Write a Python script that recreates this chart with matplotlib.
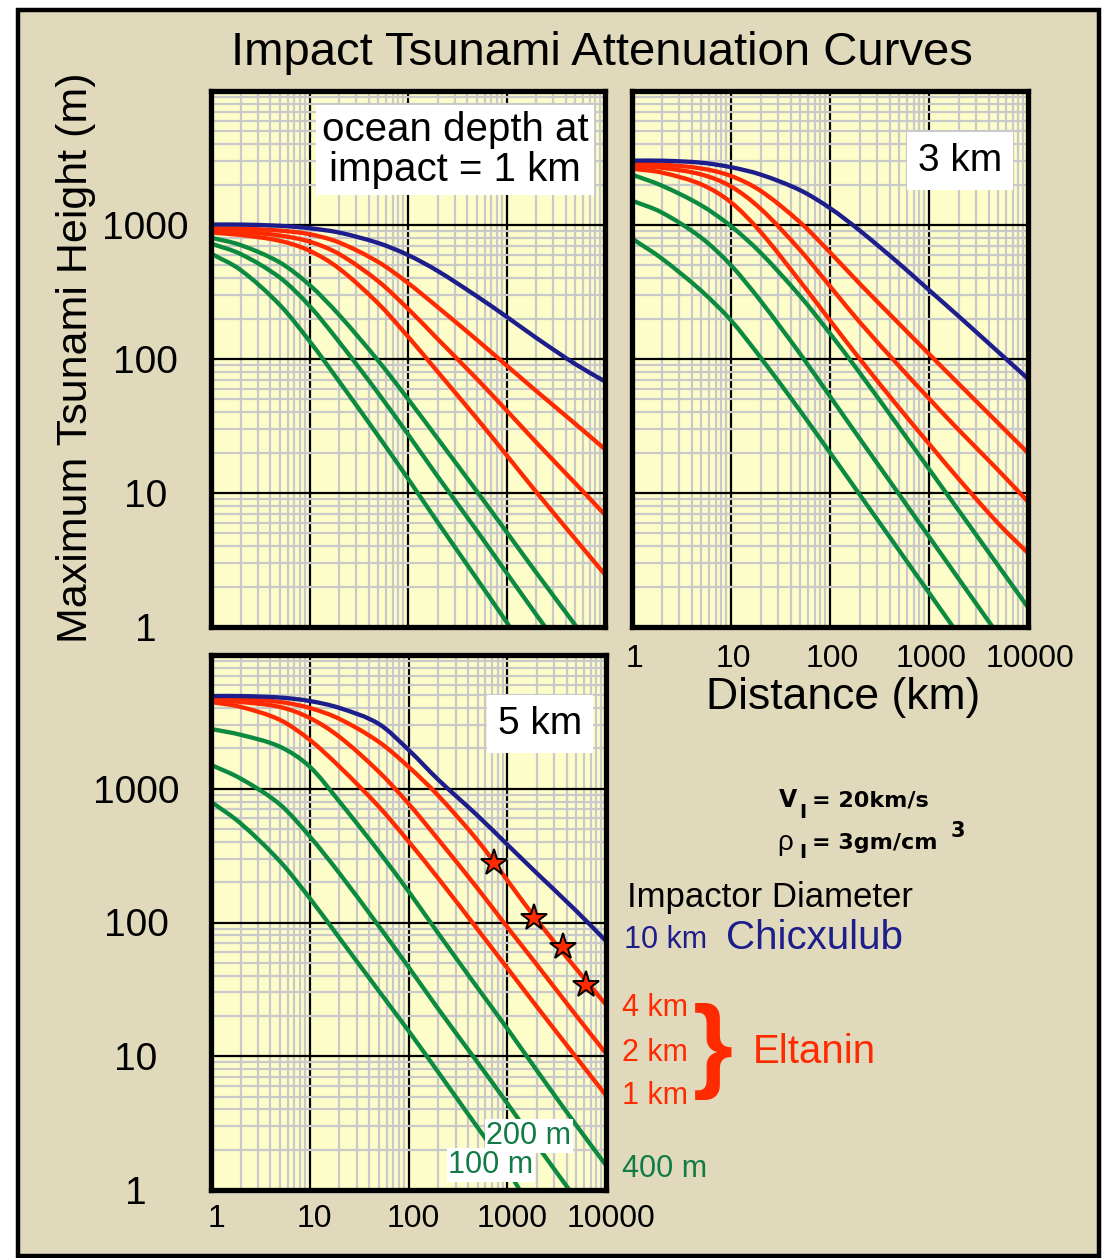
import matplotlib
matplotlib.use("Agg")
import numpy as np
import matplotlib.pyplot as plt
import matplotlib.transforms as mtransforms
from matplotlib.patches import Rectangle, PathPatch
from matplotlib.path import Path
from matplotlib.ticker import LogLocator, NullFormatter, FixedLocator

plt.rcParams['font.family'] = ['Liberation Sans', 'DejaVu Sans']

# ---------------- data (distance km, tsunami height m) ----------------
distance = [1, 2, 5, 10, 20, 50, 100, 200, 500, 1000, 2000, 5000, 10000]

# ocean depth 1 km
d1_10km = [1007, 1007, 986, 946, 878, 733, 597, 454, 294, 207, 144, 91.6, 68]
d1_4km = [940, 940, 908, 854, 740, 529, 369, 244, 139, 89.6, 57.8, 32.8, 21.2]
d1_2km = [908, 893, 834, 752, 607, 380, 237, 141, 71, 41.4, 23.9, 11.8, 6.88]
d1_1km = [878, 842, 762, 643, 473, 259, 147, 80.3, 36, 19.2, 10.2, 4.53, 2.46]
d1_400m = [805, 708, 525, 357, 213, 96.8, 50.3, 25.5, 10.3, 5.13, 2.55, 1.03, 0.51]
d1_200m = [727, 607, 405, 249, 134, 55.4, 27.4, 13.3, 5.23, 2.54, 1.24, 0.49, 0.24]
d1_100m = [612, 461, 253, 136, 68, 26.6, 12.8, 6.05, 2.29, 1.09, 0.51, 0.196, 0.094]

# ocean depth 3 km
d3_10km = [3020, 3020, 2917, 2700, 2376, 1817, 1336, 908, 515, 327, 208, 113, 71.2]
d3_4km = [2870, 2825, 2642, 2322, 1795, 1045, 625, 364, 183, 109, 65.2, 33.2, 19.9]
d3_2km = [2773, 2673, 2383, 1940, 1318, 648, 349, 188, 88.4, 50.7, 29.5, 14.8, 8.61]
d3_1km = [2630, 2461, 2011, 1476, 883, 379, 194, 100, 43.1, 23.3, 12.7, 5.93, 3.56]
d3_400m = [2376, 1967, 1402, 980, 618, 294, 155, 78.6, 30.9, 15.1, 7.39, 2.87, 1.40]
d3_200m = [1520, 1239, 804, 500, 270, 109, 52.6, 25.4, 9.75, 4.72, 2.28, 0.873, 0.423]
d3_100m = [792, 562, 323, 194, 102, 41, 20, 9.7, 3.72, 1.80, 0.871, 0.334, 0.161]

# ocean depth 5 km
d5_10km = [4932, 4932, 4808, 4529, 4018, 3055, 1955, 1169, 630, 383, 233, 122, 72.7]
d5_4km = [4766, 4690, 4455, 4018, 3327, 2243, 1461, 889, 411, 207, 104, 45, 24.3]
d5_2km = [4600, 4455, 4085, 3383, 2443, 1341, 774, 418, 180, 92.4, 48.2, 20.1, 10.5]
d5_1km = [4450, 4090, 3270, 2320, 1462, 736, 404, 214, 89, 45.7, 23.4, 9.8, 5.1]
d5_400m = [2800, 2530, 2060, 1462, 800, 340, 171, 83, 32.5, 16.1, 7.8, 3.05, 1.53]
d5_200m = [1510, 1190, 762, 440, 233, 94, 46.5, 22.6, 9.0, 4.45, 2.16, 0.85, 0.42]
d5_100m = [800, 550, 286, 152, 76.5, 30.8, 15.5, 7.6, 2.94, 1.43, 0.6, 0.22, 0.11]

# Eltanin-type observations (stars) on the 5 km depth panel
star_distance = [741, 1845, 3630, 6210]
star_height = [277, 108, 65.6, 34.2]

tick_values = [1, 10, 100, 1000, 10000]
tick_labels = ['1', '10', '100', '1000', '10000']
ytick_values = [1, 10, 100, 1000]
ytick_labels = ['1', '10', '100', '1000']

# ---------------- styling ----------------
W, H = 1103, 1258
BEIGE = '#e1d9bb'
PANEL = '#fdfdca'
BLUE = '#1d1d8c'
RED = '#ff2a00'
GREEN = '#0c8a40'
GREEN_TXT = '#127a45'
MINOR = '#c9c9c9'

fig = plt.figure(figsize=(W / 100, H / 100), dpi=100, facecolor='white')
fig.patches.append(Rectangle((18 / W, 1 - 1256 / H), (1099 - 18) / W, (1256 - 10) / H,
                             transform=fig.transFigure, facecolor=BEIGE,
                             edgecolor='black', lw=3.2, zorder=-10))


def fx(x):
    return x / W


def fy(y):
    return 1 - y / H


def make_axes(left, top, right, bottom):
    ax = fig.add_axes([fx(left), fy(bottom), fx(right) - fx(left), fy(top) - fy(bottom)])
    ax.set_facecolor(PANEL)
    ax.set_xscale('log')
    ax.set_yscale('log')
    ax.set_xlim(1, 10000)
    ax.set_ylim(1, 10000)
    ax.xaxis.set_major_locator(FixedLocator(tick_values))
    ax.yaxis.set_major_locator(FixedLocator(tick_values))
    ax.xaxis.set_minor_locator(LogLocator(base=10, subs=range(2, 10)))
    ax.yaxis.set_minor_locator(LogLocator(base=10, subs=range(2, 10)))
    ax.xaxis.set_minor_formatter(NullFormatter())
    ax.yaxis.set_minor_formatter(NullFormatter())
    ax.grid(which='minor', color=MINOR, lw=1.6)
    ax.grid(which='major', color='black', lw=1.6)
    ax.set_axisbelow(True)
    ax.tick_params(which='both', length=0)
    for s in ax.spines.values():
        s.set_linewidth(3.8)
        s.set_color('black')
        s.set_zorder(10)
    ax.set_xticklabels([])
    ax.set_yticklabels([])
    return ax


def smooth_curve(ax, xs, ys, color):
    """Smooth cubic (Hermite/Bezier) line through the points, built in log-log space."""
    lx = np.log10(np.asarray(xs, float))
    ly = np.log10(np.asarray(ys, float))
    n = len(lx)
    m = np.empty(n)
    m[0] = (ly[1] - ly[0]) / (lx[1] - lx[0])
    m[-1] = (ly[-1] - ly[-2]) / (lx[-1] - lx[-2])
    for i in range(1, n - 1):
        m[i] = (ly[i + 1] - ly[i - 1]) / (lx[i + 1] - lx[i - 1])
    verts = [(lx[0], ly[0])]
    codes = [Path.MOVETO]
    for i in range(n - 1):
        h = lx[i + 1] - lx[i]
        verts += [(lx[i] + h / 3, ly[i] + m[i] * h / 3),
                  (lx[i + 1] - h / 3, ly[i + 1] - m[i + 1] * h / 3),
                  (lx[i + 1], ly[i + 1])]
        codes += [Path.CURVE4] * 3
    path = Path(10 ** np.array(verts), codes)
    ax.add_patch(PathPatch(path, facecolor='none', edgecolor=color, lw=3.1,
                           capstyle='butt', joinstyle='round', zorder=3))


def draw_curves(ax, series):
    for vals, col in series:
        smooth_curve(ax, distance, vals, col)


ax1 = make_axes(211, 91, 605, 627)
ax2 = make_axes(632, 91, 1028, 627)
ax3 = make_axes(211, 655, 606, 1190)

draw_curves(ax1, [(d1_100m, GREEN), (d1_200m, GREEN), (d1_400m, GREEN),
                  (d1_1km, RED), (d1_2km, RED), (d1_4km, RED), (d1_10km, BLUE)])
draw_curves(ax2, [(d3_100m, GREEN), (d3_200m, GREEN), (d3_400m, GREEN),
                  (d3_1km, RED), (d3_2km, RED), (d3_4km, RED), (d3_10km, BLUE)])
draw_curves(ax3, [(d5_100m, GREEN), (d5_200m, GREEN), (d5_400m, GREEN),
                  (d5_1km, RED), (d5_2km, RED), (d5_4km, RED), (d5_10km, BLUE)])

ax3.plot(star_distance, star_height, linestyle='none', marker='*', markersize=20,
         markerfacecolor=RED, markeredgecolor='black', markeredgewidth=1.4, zorder=6)

# tick labels
for ax, pad in ((ax1, 47), (ax3, 54)):
    ax.set_yticks(ytick_values)
    ax.set_yticklabels(ytick_labels, fontsize=28)
    ax.tick_params(axis='y', pad=pad)
    for t in ax.get_yticklabels():
        t.set_horizontalalignment('center')
for ax, pad, dx in ((ax2, 12, 2), (ax3, 10, 5)):
    ax.set_xticks(tick_values)
    ax.set_xticklabels(tick_labels, fontsize=23)
    ax.tick_params(axis='x', pad=pad)
    off = mtransforms.ScaledTranslation(dx / 100, 0, fig.dpi_scale_trans)
    for t in ax.get_xticklabels():
        t.set_transform(t.get_transform() + off)

# ---------------- texts ----------------
fig.text(fx(602), fy(53), 'Impact Tsunami Attenuation Curves', fontsize=34,
         ha='center', va='center')
fig.text(fx(76), fy(358), 'Maximum Tsunami Height (m)', fontsize=31,
         rotation=90, ha='center', va='center')
fig.text(fx(843), fy(697), 'Distance (km)', fontsize=32, ha='center', va='center')

fig.text(fx(455), fy(150), 'ocean depth at\nimpact = 1 km', fontsize=29,
         ha='center', va='center', linespacing=1.07,
         bbox=dict(facecolor='white', edgecolor='none', pad=4))
fig.text(fx(960), fy(161), '3 km', fontsize=28, ha='center', va='center',
         bbox=dict(facecolor='white', edgecolor='none', pad=8))
fig.text(fx(540), fy(724), '5 km', fontsize=28, ha='center', va='center',
         bbox=dict(facecolor='white', edgecolor='none', pad=8))

# impactor parameters
PF = ['DejaVu Sans']
fig.text(fx(779), fy(800), 'V', fontsize=17, fontweight='bold', family=PF, ha='left', va='center')
fig.text(fx(799), fy(813), 'I', fontsize=14, fontweight='bold', family=PF, ha='left', va='center')
fig.text(fx(812), fy(800), '= 20km/s', fontsize=16, fontweight='bold', family=PF, ha='left', va='center')
fig.text(fx(777), fy(843), 'ρ', fontsize=20, family=['Liberation Sans'], ha='left', va='center')
fig.text(fx(799), fy(853), 'I', fontsize=14, fontweight='bold', family=PF, ha='left', va='center')
fig.text(fx(812), fy(843), '= 3gm/cm', fontsize=16, fontweight='bold', family=PF, ha='left', va='center')
fig.text(fx(951), fy(831), '3', fontsize=15, fontweight='bold', family=PF, ha='left', va='center')

fig.text(fx(627), fy(897), 'Impactor Diameter', fontsize=25, ha='left', va='center')
fig.text(fx(624), fy(940), '10 km', fontsize=22, color=BLUE, ha='left', va='center')
fig.text(fx(726), fy(938), 'Chicxulub', fontsize=29, color=BLUE, ha='left', va='center')
fig.text(fx(622), fy(1008), '4 km', fontsize=22, color=RED, ha='left', va='center')
fig.text(fx(622), fy(1053), '2 km', fontsize=22, color=RED, ha='left', va='center')
fig.text(fx(622), fy(1096), '1 km', fontsize=22, color=RED, ha='left', va='center')
fig.text(fx(713), fy(1052), '}', fontsize=74, color=RED, ha='center', va='center', fontweight='bold')
fig.text(fx(753), fy(1052), 'Eltanin', fontsize=29, color=RED, ha='left', va='center')
fig.text(fx(622), fy(1169), '400 m', fontsize=22, color=GREEN_TXT, ha='left', va='center')
fig.text(fx(529), fy(1136), '200 m', fontsize=22, color=GREEN_TXT, ha='center', va='center',
         bbox=dict(facecolor='white', edgecolor='none', pad=1))
fig.text(fx(491), fy(1165), '100 m', fontsize=22, color=GREEN_TXT, ha='center', va='center',
         bbox=dict(facecolor='white', edgecolor='none', pad=1))

fig.savefig('out.png', dpi=100, facecolor=fig.get_facecolor())
